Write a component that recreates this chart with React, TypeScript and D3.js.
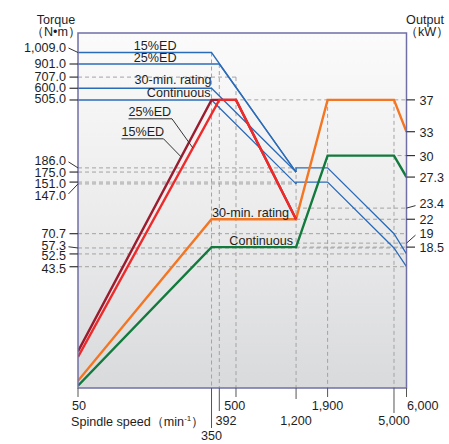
import React from "react";
import * as d3 from "d3";

type P = [number, number];

// ---- data ----
const speedTicks = [50, 350, 392, 500, 1200, 1900, 5000, 6000];
const speedTickLabels = ["50", "350", "392", "500", "1,200", "1,900", "5,000", "6,000"];
const torqueTicks = [1009, 901, 707, 600, 505, 186, 175, 151, 147, 70.7, 57.3, 52.5, 43.5];
const torqueTickLabels = ["1,009.0", "901.0", "707.0", "600.0", "505.0", "186.0", "175.0", "151.0", "147.0", "70.7", "57.3", "52.5", "43.5"];
const outputTicks = [37, 33, 30, 27.3, 23.4, 22, 19, 18.5];
const outputTickLabels = ["37", "33", "30", "27.3", "23.4", "22", "19", "18.5"];

// torque curves (speed, N·m)
const torque15ED: P[] = [[50, 1009], [350, 1009], [1200, 175]];
const torque25ED: P[] = [[50, 901], [392, 901], [1200, 175]];
const torque30minLow: P[] = [[50, 600], [350, 600], [1200, 175]];
const torqueContLow: P[] = [[50, 505], [350, 505], [1200, 147]];
const torque30minHigh: P[] = [[1200, 175], [1200, 186], [1900, 186], [5000, 70.7], [6000, 52.5]];
const torqueContHigh: P[] = [[1200, 147], [1200, 151], [1900, 151], [5000, 57.3], [6000, 43.5]];

// output curves (speed, kW)
const output15ED: P[] = [[50, 5.4], [350, 37], [500, 37], [1200, 22]];
const output25ED: P[] = [[50, 4.7], [392, 37], [500, 37], [1200, 22]];
const output30min: P[] = [[50, 1.7], [350, 22], [1200, 22], [1900, 37], [5000, 37], [6000, 33]];
const outputCont: P[] = [[50, 1.1], [350, 18.5], [1200, 18.5], [1900, 30], [5000, 30], [6000, 27.3]];

// reference (dashed) lines: [value, fromSpeed, toSpeed]
const torqueGuides: [number, number, number][] = [
  [707, 50, 500], [186, 50, 1200], [175, 50, 1200], [151, 50, 1200], [147, 50, 1200],
  [70.7, 50, 6000], [57.3, 50, 6000], [52.5, 50, 6000], [43.5, 50, 6000],
];
const outputGuides: [number, number, number][] = [
  [37, 392, 6000], [30, 1900, 6000], [23.4, 1200, 6000], [22, 1200, 6000], [19, 1200, 6000], [18.5, 1200, 6000],
];
const vGuidesTorque: [number, number][] = [[350, 1009], [392, 901], [500, 707], [1200, 186]];
const vGuidesOutput: [number, number][] = [[1900, 37], [5000, 37]];

// ---- layout ----
const W = 449, H = 444;
const L = 78, R = 406.5, T = 33, B = 388;
const FS = 12.6;
const FONT = "'Liberation Sans', Arial, Helvetica, sans-serif";
const BLUE = "#2b6cb8";
const DARKRED = "#9b1c2e";
const RED = "#ee2a2a";
const ORANGE = "#f47522";
const GREEN = "#127a3d";
const DASH = "#a3a3a3";
const TXT = "#1e1e1e";

export default function App() {
  const x = d3.scaleLog().domain([50, 6000]).range([L, R]);
  // piecewise log scale, matching the reference's slightly stretched top
  const yT = d3.scaleLog().domain([7.31, 707, 901, 1009, 1353]).range([B, 77.1, 64, 52.5, T]);
  const yP = d3.scaleLinear().domain([0.8, 45.4]).range([B, T]);

  const lineT = d3.line<P>().x((d) => x(d[0])).y((d) => yT(d[1]));
  const lineP = d3.line<P>().x((d) => x(d[0])).y((d) => yP(d[1]));

  const leftCfg: Record<number, { off: number; slant?: boolean }> = {
    1009: { off: -5.5, slant: true },
    186: { off: -7, slant: true },
    175: { off: 0.5 },
    151: { off: 1.5 },
    147: { off: 12, slant: true },
    70.7: { off: 0.3 },
    57.3: { off: -2.2, slant: true },
    52.5: { off: 2 },
    43.5: { off: 1.3 },
  };
  const rightCfg: Record<number, { off: number; slant?: boolean }> = {
    23.4: { off: -4.5, slant: true },
    19: { off: -10, slant: true },
  };
  const bottomCfg: Record<number, { len: number; anchor: string; lx: (v: number) => number; base: number }> = {
    50: { len: 9, anchor: "middle", lx: (v) => x(v) + 1, base: 410 },
    350: { len: 40, anchor: "middle", lx: (v) => x(v), base: 440 },
    392: { len: 23, anchor: "start", lx: () => x(350) + 4, base: 425 },
    500: { len: 9, anchor: "start", lx: () => x(392) + 5, base: 410 },
    1200: { len: 11, anchor: "middle", lx: (v) => x(v), base: 425 },
    1900: { len: 9, anchor: "middle", lx: (v) => x(v), base: 410 },
    5000: { len: 25, anchor: "middle", lx: (v) => x(v), base: 425 },
    6000: { len: 9, anchor: "start", lx: (v) => x(v) + 0.5, base: 410 },
  };

  const lerp = (pts: P[], f: number, y: (v: number) => number): [number, number] => {
    const ax = x(pts[0][0]), ay = y(pts[0][1]);
    const bx = x(pts[1][0]), by = y(pts[1][1]);
    return [ax + (bx - ax) * f, ay + (by - ay) * f];
  };
  const tgt25 = lerp(output25ED, 0.813, yP);
  const tgt15 = lerp(output15ED, 0.773, yP);

  return (
    <svg width={W} height={H} style={{ position: "absolute", left: 0, top: 0, background: "#fff" }} fontFamily={FONT}>
      <defs>
        <linearGradient id="bg" x1="0" y1="0" x2="0" y2="1">
          <stop offset="0" stopColor="#fbfbfb" />
          <stop offset="0.5" stopColor="#ececed" />
          <stop offset="1" stopColor="#d9dadc" />
        </linearGradient>
        <clipPath id="plot">
          <rect x={L} y={T} width={R - L} height={B - T} />
        </clipPath>
      </defs>
      <rect x={L} y={T} width={R - L} height={B - T} fill="url(#bg)" />

      <g clipPath="url(#plot)" fill="none" stroke={DASH} strokeWidth={1} strokeDasharray="4 3">
        {torqueGuides.map(([v, a, b], i) => (
          <line key={"tg" + i} x1={x(a)} x2={x(b)} y1={yT(v)} y2={yT(v)} />
        ))}
        {outputGuides.map(([v, a, b], i) => (
          <line key={"og" + i} x1={x(a)} x2={x(b)} y1={yP(v)} y2={yP(v)} />
        ))}
        {vGuidesTorque.map(([s, v], i) => (
          <line key={"vt" + i} x1={x(s)} x2={x(s)} y1={yT(v)} y2={B} />
        ))}
        {vGuidesOutput.map(([s, v], i) => (
          <line key={"vo" + i} x1={x(s)} x2={x(s)} y1={yP(v)} y2={B} />
        ))}
      </g>

      <g clipPath="url(#plot)" fill="none" strokeLinejoin="miter">
        {[torque15ED, torque25ED, torque30minLow, torqueContLow, torque30minHigh, torqueContHigh].map((s, i) => (
          <path key={"t" + i} d={lineT(s) || ""} stroke={BLUE} strokeWidth={1.3} />
        ))}
        <path d={lineP(outputCont) || ""} stroke={GREEN} strokeWidth={2.4} />
        <path d={lineP(output30min) || ""} stroke={ORANGE} strokeWidth={2.4} />
        <path d={lineP(output15ED) || ""} stroke={DARKRED} strokeWidth={2.4} />
        <path d={lineP(output25ED) || ""} stroke={RED} strokeWidth={2.4} />
      </g>

      <rect x={L} y={T} width={R - L} height={B - T} fill="none" stroke="#6f6fa6" strokeWidth={1.5} />

      <g fill={TXT} fontSize={FS}>
        <text x={56} y={24} textAnchor="middle">Torque</text>
        <text x={56} y={36} textAnchor="middle">（N•m）</text>
        <text x={425} y={24} textAnchor="middle">Output</text>
        <text x={427} y={36} textAnchor="middle">（kW）</text>
        <text x={71} y={426}>
          Spindle speed（min<tspan fontSize={8} dy={-5}>-1</tspan><tspan dy={5}>）</tspan>
        </text>
      </g>

      <g fontSize={FS} fill={TXT}>
        {torqueTicks.map((v, i) => {
          const ty = yT(v);
          const c = leftCfg[v] || { off: -1 };
          const cy = ty + c.off;
          return (
            <g key={"lt" + i}>
              {c.slant ? (
                <line x1={68.5} y1={cy + (c.off < 0 ? 1 : -2)} x2={L} y2={ty} stroke="#333" strokeWidth={1} />
              ) : (
                <line x1={69.5} y1={ty} x2={L} y2={ty} stroke="#333" strokeWidth={1.2} />
              )}
              <text x={66} y={cy + 4.5} textAnchor="end">{torqueTickLabels[i]}</text>
            </g>
          );
        })}
      </g>

      <g fontSize={FS} fill={TXT}>
        {outputTicks.map((v, i) => {
          const ty = yP(v);
          const c = rightCfg[v] || { off: 0.5 };
          const cy = ty + c.off;
          return (
            <g key={"rt" + i}>
              {c.slant ? (
                <line x1={R} y1={ty} x2={415.5} y2={cy + 2} stroke="#333" strokeWidth={1} />
              ) : (
                <line x1={R} y1={ty} x2={415} y2={ty} stroke="#333" strokeWidth={1.2} />
              )}
              <text x={419.5} y={cy + 4.5}>{outputTickLabels[i]}</text>
            </g>
          );
        })}
      </g>

      <g fontSize={FS} fill={TXT}>
        {speedTicks.map((v, i) => {
          const c = bottomCfg[v];
          return (
            <g key={"bt" + i}>
              <line x1={x(v)} x2={x(v)} y1={B} y2={B + c.len} stroke="#555" strokeWidth={1} />
              <text x={c.lx(v)} y={c.base} textAnchor={c.anchor as any}>{speedTickLabels[i]}</text>
            </g>
          );
        })}
      </g>

      <g fontSize={FS} fill={TXT}>
        <text x={x(350) - 35} y={yT(1009) - 2.5} textAnchor="end">15%ED</text>
        <text x={x(350) - 35} y={yT(901) - 2.5} textAnchor="end">25%ED</text>
        <text x={x(350)} y={yT(600) - 4} textAnchor="end">30-min. rating</text>
        <text x={x(350) - 1} y={yT(505) - 3} textAnchor="end">Continuous</text>

        <text x={x(1200) - 7} y={yP(22) - 2.5} textAnchor="end">30-min. rating</text>
        <text x={x(1200) - 3} y={yP(18.5) - 2.5} textAnchor="end">Continuous</text>

        <text x={128.5} y={116}>25%ED</text>
        <text x={121.5} y={136}>15%ED</text>
      </g>
      <g stroke="#333" strokeWidth={1} fill="none">
        <polyline points={`128.5,118.8 172,118.8 ${tgt25[0]},${tgt25[1]}`} />
        <polyline points={`121.5,138.8 163.5,138.8 ${tgt15[0]},${tgt15[1]}`} />
      </g>
    </svg>
  );
}
